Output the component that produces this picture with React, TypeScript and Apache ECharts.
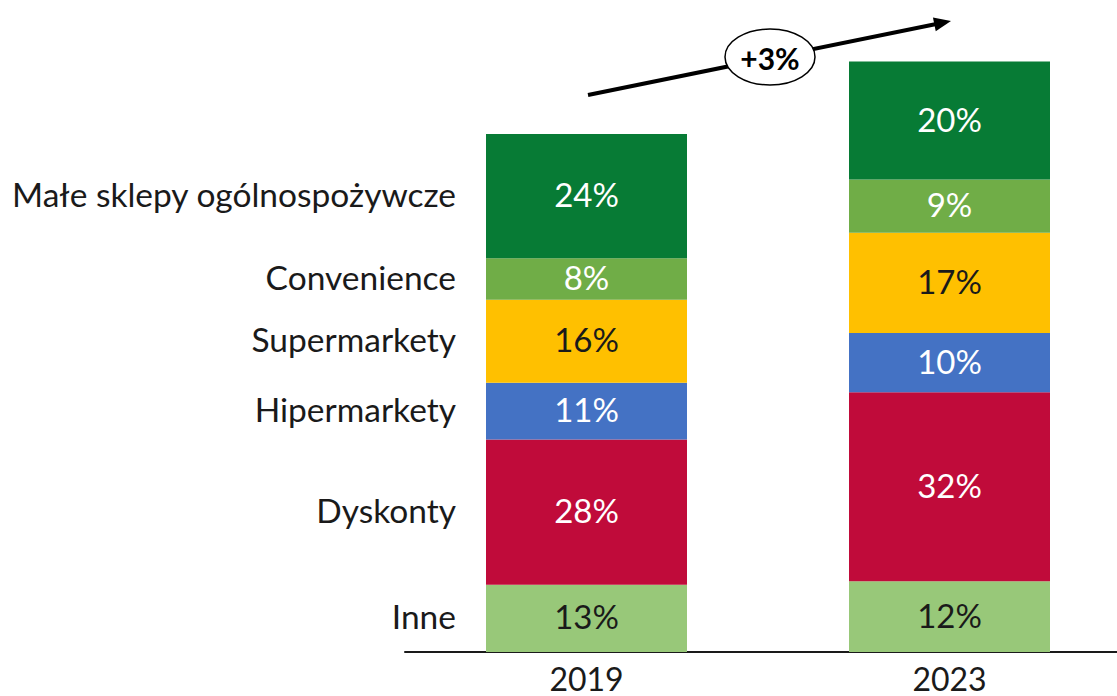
import React, { useEffect, useRef } from "react";
import * as echarts from "echarts";

const categories = ["2019", "2023"];
const segmentNames = [
  "Inne",
  "Dyskonty",
  "Hipermarkety",
  "Supermarkety",
  "Convenience",
  "Małe sklepy ogólnospożywcze",
];
const shares2019 = [13, 28, 11, 16, 8, 24];
const shares2023 = [12, 32, 10, 17, 9, 20];
const barTotals = [100, 114];
const segmentColors = ["#98C879", "#C00B3A", "#4472C4", "#FFC000", "#70AD47", "#077B35"];
const labelColors = ["#1a1a1a", "#ffffff", "#ffffff", "#1a1a1a", "#ffffff", "#ffffff"];
const growthLabel = "+3%";

const FONT = "Lato";

export default function App() {
  const ref = useRef<HTMLDivElement>(null);
  useEffect(() => {
    if (!ref.current) return;
    const chart = echarts.init(ref.current, undefined, { renderer: "svg" });
    const sharesByCat = [shares2019, shares2023];
    const values = sharesByCat.map((arr, ci) => arr.map((s) => (s * barTotals[ci]) / 100));

    let cum = 0;
    const series = segmentNames.map((name, si) => {
      const v0 = values[0][si];
      const mid = cum + v0 / 2;
      cum += v0;
      return {
        name,
        type: "bar",
        stack: "total",
        barWidth: 201,
        data: [values[0][si], values[1][si]],
        itemStyle: { color: segmentColors[si] },
        label: {
          show: true,
          position: "inside",
          offset: [0, -2],
          color: labelColors[si],
          fontFamily: FONT,
          fontSize: 33,
          formatter: (p: any) => `${sharesByCat[p.dataIndex][si]}%`,
        },
        markPoint: {
          symbol: "circle",
          symbolSize: 1,
          itemStyle: { color: "rgba(0,0,0,0)" },
          data: [{ coord: [categories[0], mid] }],
          label: {
            show: true,
            position: "left",
            distance: 130,
            offset: [0, -2],
            color: "#1a1a1a",
            fontFamily: FONT,
            fontSize: 33.5,
            formatter: () => name,
          },
        },
      };
    });

    // arrow geometry (annotation)
    const start = [588, 95];
    const tip = [951, 21];
    const dx = tip[0] - start[0];
    const dy = tip[1] - start[1];
    const len = Math.sqrt(dx * dx + dy * dy);
    const ux = dx / len;
    const uy = dy / len;
    const nx = -uy;
    const ny = ux;
    const headLen = 17;
    const headHalf = 7;
    const bx = tip[0] - headLen * ux;
    const by = tip[1] - headLen * uy;

    chart.setOption({
      animation: false,
      grid: { left: 405, width: 726, top: 30.4, bottom: 44, outerBoundsMode: "none", containLabel: false },
      xAxis: {
        type: "category",
        data: categories,
        axisLine: { show: true, lineStyle: { color: "#1a1a1a", width: 2 } },
        axisTick: { show: false },
        axisLabel: {
          color: "#1a1a1a",
          fontFamily: FONT,
          fontSize: 32,
          lineHeight: 32,
          margin: 10,
        },
      },
      yAxis: {
        type: "value",
        min: 0,
        max: 120,
        show: false,
        splitLine: { show: false },
      },
      series,
      graphic: [
        {
          type: "line",
          z: 10,
          shape: { x1: start[0], y1: start[1], x2: bx + ux * 2, y2: by + uy * 2 },
          style: { stroke: "#000", lineWidth: 4 },
        },
        {
          type: "polygon",
          z: 10,
          shape: {
            points: [
              [tip[0], tip[1]],
              [bx + headHalf * nx, by + headHalf * ny],
              [bx - headHalf * nx, by - headHalf * ny],
            ],
          },
          style: { fill: "#000" },
        },
        {
          type: "ellipse",
          z: 11,
          shape: { cx: 770, cy: 57, rx: 45, ry: 28 },
          style: { fill: "#fff", stroke: "#000", lineWidth: 1.5 },
        },
        {
          type: "text",
          z: 12,
          x: 770,
          y: 58,
          style: {
            text: growthLabel,
            fill: "#000",
            font: `bold 30px ${FONT}`,
            align: "center",
            verticalAlign: "middle",
          },
        },
      ],
    });
    return () => chart.dispose();
  }, []);
  return (
    <div
      ref={ref}
      style={{ position: "fixed", left: 0, top: 0, width: 1117, height: 696, background: "#fff" }}
    />
  );
}
